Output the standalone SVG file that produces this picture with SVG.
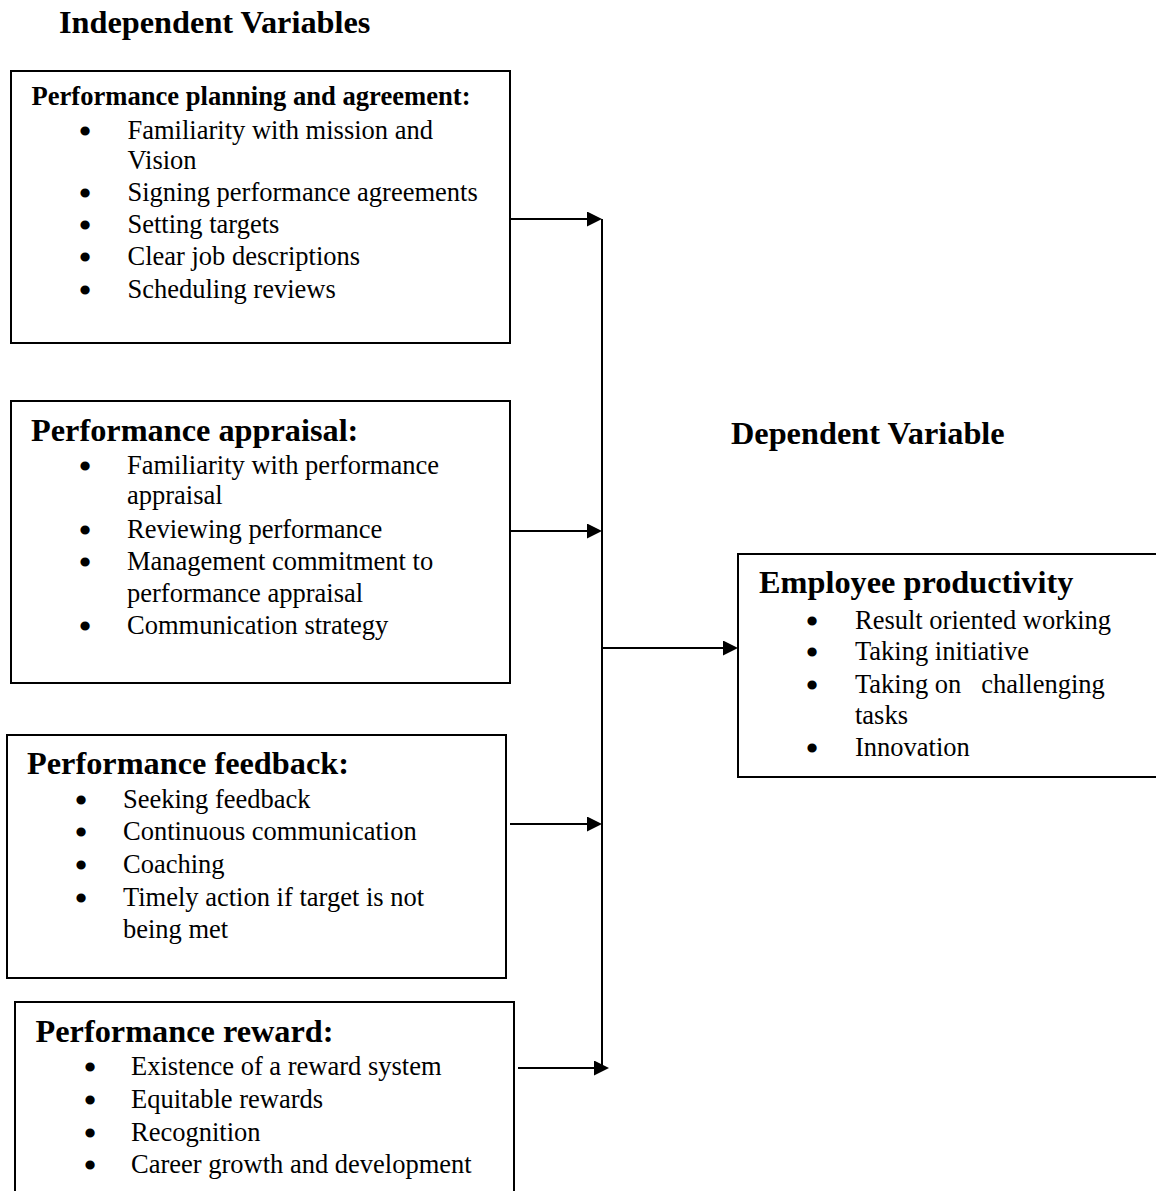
<svg xmlns="http://www.w3.org/2000/svg" width="1156" height="1191" viewBox="0 0 1156 1191">
<style>
text { font-family: "Liberation Serif", "Times New Roman", serif; fill: #000; }
.h { font-weight: bold; font-size: 32.3px; }
.h1 { font-weight: bold; font-size: 26.6px; }
.b { font-size: 26.5px; white-space: pre; }
.dot { font-size: 26px; text-anchor: middle; stroke: #000; stroke-width: 3px; stroke-linejoin: round; }
.box { fill: #fff; stroke: #000; stroke-width: 2; }
.con { fill: none; stroke: #000; stroke-width: 2; }
</style>
<defs>
<marker id="arr" markerUnits="userSpaceOnUse" markerWidth="16" markerHeight="16" refX="7" refY="7.5" orient="auto">
<path d="M0,0 L15,7.5 L0,15 Z" fill="#000"/>
</marker>
</defs>
<rect width="1156" height="1191" fill="#fff"/>

<text id="title-independent" class="h" x="59" y="33">Independent Variables</text>
<text id="title-dependent" class="h" x="731" y="444">Dependent Variable</text>

<g id="node-planning">
<rect class="box" x="11" y="71" width="499" height="272"/>
<text class="h1" x="31.5" y="105">Performance planning and agreement:</text>
<text class="dot" x="85" y="139.5">•</text><text class="b" x="127.5" y="138.5">Familiarity with mission and</text>
<text class="b" x="127.5" y="168.5">Vision</text>
<text class="dot" x="85" y="201.5">•</text><text class="b" x="127.5" y="200.5">Signing performance agreements</text>
<text class="dot" x="85" y="233.5">•</text><text class="b" x="127.5" y="232.5">Setting targets</text>
<text class="dot" x="85" y="265.5">•</text><text class="b" x="127.5" y="264.5">Clear job descriptions</text>
<text class="dot" x="85" y="298.5">•</text><text class="b" x="127.5" y="297.5">Scheduling reviews</text>
</g>

<g id="node-appraisal">
<rect class="box" x="11" y="401" width="499" height="282"/>
<text class="h" x="31" y="441">Performance appraisal:</text>
<text class="dot" x="85" y="474.5">•</text><text class="b" x="127" y="473.5">Familiarity with performance</text>
<text class="b" x="127" y="504">appraisal</text>
<text class="dot" x="85" y="538.5">•</text><text class="b" x="127" y="537.5">Reviewing performance</text>
<text class="dot" x="85" y="570.5">•</text><text class="b" x="127" y="569.5">Management commitment to</text>
<text class="b" x="127" y="601.5">performance appraisal</text>
<text class="dot" x="85" y="634.5">•</text><text class="b" x="127" y="633.5">Communication strategy</text>
</g>

<g id="node-feedback">
<rect class="box" x="7" y="735" width="499" height="243"/>
<text class="h" x="27" y="774">Performance feedback:</text>
<text class="dot" x="81" y="808.5">•</text><text class="b" x="123" y="807.5">Seeking feedback</text>
<text class="dot" x="81" y="840.5">•</text><text class="b" x="123" y="839.5">Continuous communication</text>
<text class="dot" x="81" y="873.5">•</text><text class="b" x="123" y="872.5">Coaching</text>
<text class="dot" x="81" y="906.5">•</text><text class="b" x="123" y="905.5">Timely action if target is not</text>
<text class="b" x="123" y="937.5">being met</text>
</g>

<g id="node-reward">
<rect class="box" x="15" y="1002" width="499" height="200"/>
<text class="h" x="35.5" y="1042">Performance reward:</text>
<text class="dot" x="90" y="1075.5">•</text><text class="b" x="131" y="1074.5">Existence of a reward system</text>
<text class="dot" x="90" y="1108.5">•</text><text class="b" x="131" y="1107.5">Equitable rewards</text>
<text class="dot" x="90" y="1141.5">•</text><text class="b" x="131" y="1140.5">Recognition</text>
<text class="dot" x="90" y="1173.5">•</text><text class="b" x="131" y="1172.5">Career growth and development</text>
</g>

<g id="node-productivity">
<rect class="box" x="738" y="554" width="430" height="223"/>
<text class="h" x="759" y="593">Employee productivity</text>
<text class="dot" x="812" y="629.5">•</text><text class="b" x="855" y="628.5">Result oriented working</text>
<text class="dot" x="812" y="660.5">•</text><text class="b" x="855" y="659.5">Taking initiative</text>
<text class="dot" x="812" y="693.5">•</text><text class="b" x="855" y="692.5">Taking on   challenging</text>
<text class="b" x="855" y="723.5">tasks</text>
<text class="dot" x="812" y="756.5">•</text><text class="b" x="855" y="755.5">Innovation</text>
</g>

<g id="connectors">
<line class="con" x1="602" y1="219" x2="602" y2="1068"/>
<line class="con" x1="510" y1="219" x2="594" y2="219" marker-end="url(#arr)"/>
<line class="con" x1="510" y1="531" x2="594" y2="531" marker-end="url(#arr)"/>
<line class="con" x1="510" y1="824" x2="594" y2="824" marker-end="url(#arr)"/>
<line class="con" x1="518" y1="1068" x2="601" y2="1068" marker-end="url(#arr)"/>
<line class="con" x1="602" y1="648" x2="730" y2="648" marker-end="url(#arr)"/>
</g>
</svg>
